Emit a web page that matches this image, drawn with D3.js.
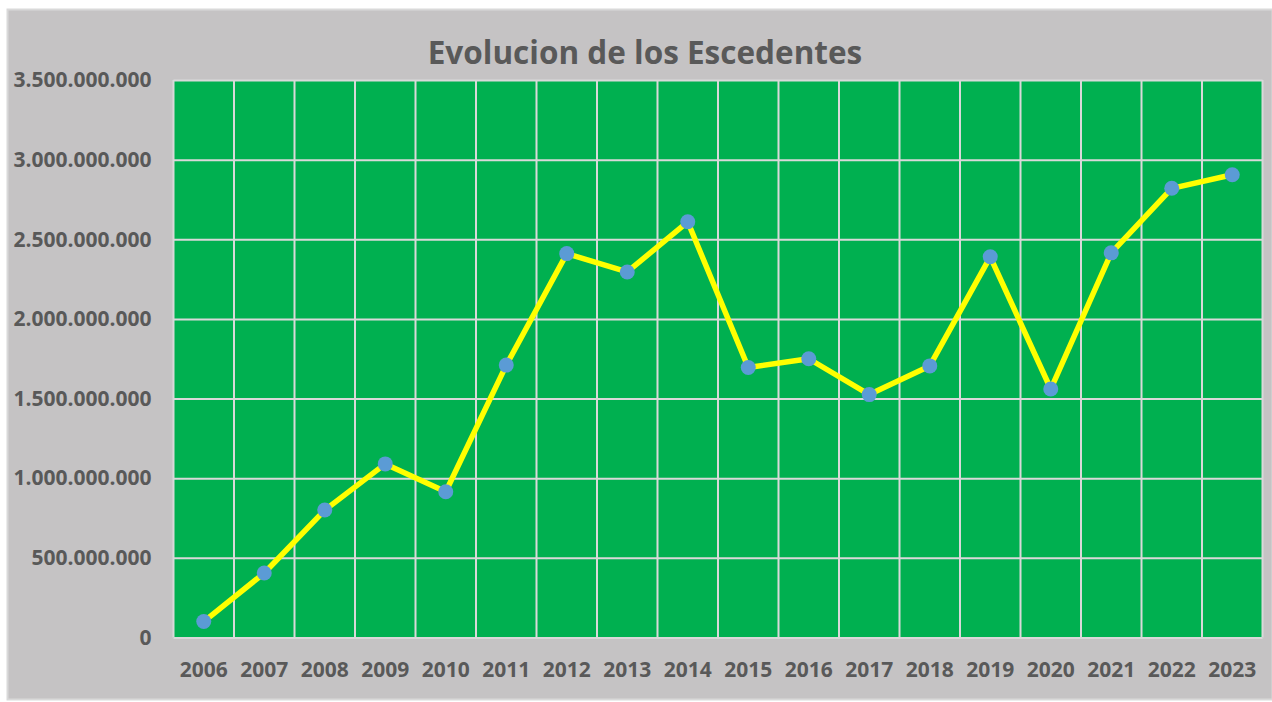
<!DOCTYPE html>
<html>
<head>
<meta charset="utf-8">
<script src="https://cdn.jsdelivr.net/npm/d3@7"></script>
<style>
  body { margin: 0; background: #ffffff; }
  text { font-family: "Open Sans", sans-serif; font-weight: bold; fill: #595959; }
</style>
</head>
<body>
<div id="chart"></div>
<script>
let years = ["2006","2007","2008","2009","2010","2011","2012","2013","2014",
             "2015","2016","2017","2018","2019","2020","2021","2022","2023"];
let escedentes = [100000000, 405000000, 800000000, 1090000000, 915000000, 1710000000,
                  2410000000, 2295000000, 2610000000, 1695000000, 1750000000, 1525000000,
                  1705000000, 2390000000, 1560000000, 2415000000, 2820000000, 2905000000];
let yTicks = [0, 500000000, 1000000000, 1500000000, 2000000000, 2500000000, 3000000000, 3500000000];

let width = 1272;
let height = 702;
let margin = {top: 80, right: 9.5, bottom: 64.5, left: 173.5};

let svg = d3.select("#chart").append("svg")
  .attr("width", width)
  .attr("height", height);

// fondo gris del grafico
svg.append("rect")
  .attr("x", 7.5).attr("y", 9.5)
  .attr("width", width - 7).attr("height", height - 12)
  .attr("fill", "#c5c3c4")
  .attr("stroke", "#d9d9d9")
  .attr("stroke-width", 2);

let x = d3.scaleBand()
  .domain(years)
  .range([margin.left, width - margin.right]);

let y = d3.scaleLinear()
  .domain([0, 3500000000])
  .range([height - margin.bottom, margin.top]);

// area verde
svg.append("rect")
  .attr("x", margin.left).attr("y", margin.top)
  .attr("width", x.range()[1] - x.range()[0])
  .attr("height", y(0) - y(3500000000))
  .attr("fill", "#00b050");

// rejilla
let fmt = function(d) {
  return d3.format(",")(d).replace(/,/g, ".");
};

let yAxis = svg.append("g")
  .attr("transform", "translate(" + margin.left + ",0)")
  .call(d3.axisLeft(y).tickValues(yTicks).tickFormat(fmt)
    .tickSize(-(x.range()[1] - x.range()[0])).tickPadding(22));
yAxis.select(".domain").remove();
yAxis.selectAll("line").attr("stroke", "#d9d9d9").attr("stroke-width", 2);
yAxis.selectAll("text").style("font-size", "21px").attr("fill", "#595959");

let vLines = years.map(function(d) { return x(d); }).concat([x.range()[1]]);
svg.append("g").selectAll("line")
  .data(vLines)
  .enter().append("line")
  .attr("x1", function(d) { return d; })
  .attr("x2", function(d) { return d; })
  .attr("y1", y(3500000000))
  .attr("y2", y(0))
  .attr("stroke", "#d9d9d9")
  .attr("stroke-width", 2);

let xAxis = svg.append("g")
  .attr("transform", "translate(0," + y(0) + ")")
  .call(d3.axisBottom(x).tickSize(0).tickPadding(25));
xAxis.select(".domain").remove();
xAxis.selectAll("text").style("font-size", "21px").attr("fill", "#595959");

// titulo
svg.append("text")
  .attr("x", 645)
  .attr("y", 64)
  .attr("text-anchor", "middle")
  .style("font-size", "31.5px")
  .text("Evolucion de los Escedentes");

// linea
let line = d3.line()
  .x(function(d, i) { return x(years[i]) + x.bandwidth() / 2; })
  .y(function(d) { return y(d); });

svg.append("path")
  .datum(escedentes)
  .attr("d", line)
  .attr("fill", "none")
  .attr("stroke", "#ffff00")
  .attr("stroke-width", 5.5)
  .attr("stroke-linejoin", "round");

svg.append("g").selectAll("circle")
  .data(escedentes)
  .enter().append("circle")
  .attr("cx", function(d, i) { return x(years[i]) + x.bandwidth() / 2; })
  .attr("cy", function(d) { return y(d); })
  .attr("r", 7.5)
  .attr("fill", "#5b9bd5");
</script>
</body>
</html>
